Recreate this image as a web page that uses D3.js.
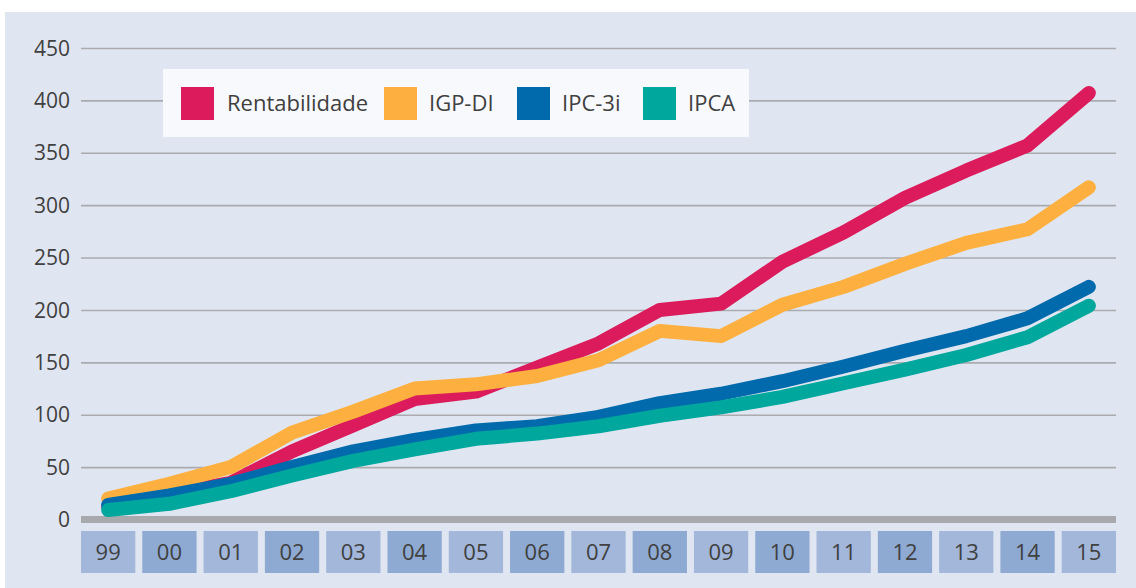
<!DOCTYPE html>
<html>
<head>
<meta charset="utf-8">
<script src="https://cdn.jsdelivr.net/npm/d3@7"></script>
<style>
  body { margin: 0; background: #fff; }
  text { font-family: "Open Sans", "Noto Sans", sans-serif; fill: #404040; }
</style>
</head>
<body>
<svg id="chart" width="1136" height="588"></svg>
<script>
// years along the bottom
const years = ["99","00","01","02","03","04","05","06","07","08","09","10","11","12","13","14","15"];
const yTicks = [0, 50, 100, 150, 200, 250, 300, 350, 400, 450];

// series, values
const rentabilidade = [12, 24, 35, 65, 90, 115, 122, 145, 168, 200, 206, 246, 274, 307, 333, 357, 407];
const igpdi = [20, 34, 50, 83, 103, 125, 129, 137, 152, 180, 175, 205, 222, 244, 264, 277, 317];
const ipc3i = [14, 23, 34, 50, 65, 76, 85, 89, 98, 111, 120, 132, 146, 161, 175, 192, 222];
const ipca = [9, 15, 27, 42, 56, 67, 77, 82, 89, 99, 107, 117, 130, 143, 157, 174, 204];

const seriesNames = ["Rentabilidade", "IGP-DI", "IPC-3i", "IPCA"];
const seriesValues = [rentabilidade, igpdi, ipc3i, ipca];
const colors = ["#db1b5b", "#fdb040", "#006aac", "#00a79d"];

const svg = d3.select("#chart");

// panel background
svg.append("rect")
    .attr("x", 5).attr("y", 12)
    .attr("width", 1131).attr("height", 576)
    .attr("fill", "#e0e6f1");

const left = 81, right = 1116;
const x = d3.scaleBand().domain(years).range([left, right]).paddingInner(0.114).paddingOuter(0);
const y = d3.scaleLinear().domain([0, 450]).range([519.5, 48]);

// gridlines + tick labels
const yAxis = svg.append("g")
    .attr("transform", `translate(${left},0)`)
    .call(d3.axisLeft(y).tickValues(yTicks).tickSize(-(right - left)).tickPadding(11));
yAxis.select(".domain").remove();
yAxis.selectAll(".tick line")
    .attr("stroke", "#a9abae")
    .attr("stroke-width", 1.6)
    .attr("opacity", d => d === 0 ? 0 : 1);
yAxis.selectAll(".tick text")
    .style("font-size", "21px")
    .style("fill", "#404040")
    .attr("dy", "0.34em");

// thick zero baseline
svg.append("rect")
    .attr("x", left).attr("y", y(0) - 3.5)
    .attr("width", right - left).attr("height", 7)
    .attr("fill", "#a7a9ac");

// year boxes
const xg = svg.append("g");
xg.selectAll("rect")
    .data(years)
    .enter()
    .append("rect")
    .attr("x", d => x(d))
    .attr("y", 531)
    .attr("width", x.bandwidth())
    .attr("height", 42)
    .attr("fill", (d, i) => i % 2 === 0 ? "#a2b7da" : "#8eaad2");
xg.selectAll("text")
    .data(years)
    .enter()
    .append("text")
    .attr("x", d => x(d) + x.bandwidth() / 2)
    .attr("y", 552)
    .attr("dy", "0.36em")
    .attr("text-anchor", "middle")
    .style("font-size", "22px")
    .text(d => d);

// lines
const line = d3.line()
    .x((d, i) => x(years[i]) + x.bandwidth() / 2)
    .y(d => y(d));

svg.append("g")
    .selectAll("path")
    .data(seriesValues)
    .enter()
    .append("path")
    .attr("d", d => line(d))
    .attr("fill", "none")
    .attr("stroke", (d, i) => colors[i])
    .attr("stroke-width", 14)
    .attr("stroke-linecap", "round")
    .attr("stroke-linejoin", "round");

// legend
const legend = svg.append("g");
legend.append("rect")
    .attr("x", 163).attr("y", 69)
    .attr("width", 586).attr("height", 68)
    .attr("fill", "#f8f9fc");

const itemX = [181, 384, 517, 643];
const items = legend.selectAll(".item")
    .data(seriesNames)
    .enter()
    .append("g")
    .attr("class", "item")
    .attr("transform", (d, i) => `translate(${itemX[i]},87)`);
items.append("rect")
    .attr("width", 33).attr("height", 33)
    .attr("fill", (d, i) => colors[i]);
items.append("text")
    .attr("x", (d, i) => i === 0 ? 46 : 45)
    .attr("y", 16.5)
    .attr("dy", "0.36em")
    .style("font-size", "22px")
    .text(d => d);
</script>
</body>
</html>
